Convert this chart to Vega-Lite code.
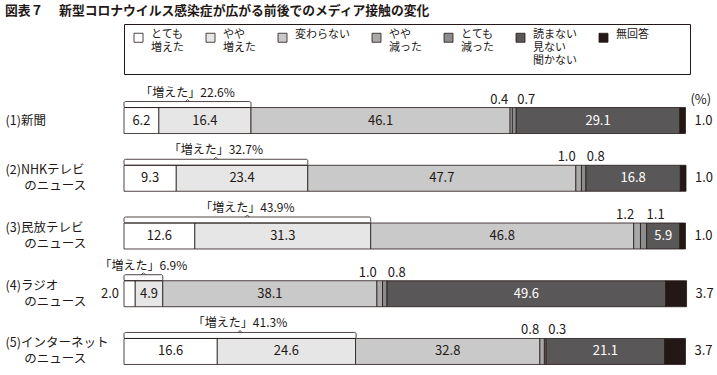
{
  "$schema": "https://vega.github.io/schema/vega-lite/v6.json",
  "width": 562,
  "height": 280,
  "autosize": {"type": "none"},
  "padding": {"left": 124, "top": 96, "right": 31, "bottom": 0},
  "background": "white",
  "title": {
    "text": "図表７　 新型コロナウイルス感染症が広がる前後でのメディア接触の変化",
    "anchor": "start",
    "frame": "group",
    "dx": -119,
    "dy": -2,
    "font": "Noto Sans CJK JP",
    "fontSize": 12.8,
    "fontWeight": "bold",
    "color": "#231815"
  },
  "datasets": {
    "seg": [
      {"media": "(1)新聞", "cat": "とても|増えた", "order": 1, "value": 6.2},
      {"media": "(1)新聞", "cat": "やや|増えた", "order": 2, "value": 16.4},
      {"media": "(1)新聞", "cat": "変わらない", "order": 3, "value": 46.1},
      {"media": "(1)新聞", "cat": "やや|減った", "order": 4, "value": 0.4},
      {"media": "(1)新聞", "cat": "とても|減った", "order": 5, "value": 0.7},
      {"media": "(1)新聞", "cat": "読まない|見ない|聞かない", "order": 6, "value": 29.1},
      {"media": "(1)新聞", "cat": "無回答", "order": 7, "value": 1.0},
      {"media": "(2)NHKテレビ|のニュース", "cat": "とても|増えた", "order": 1, "value": 9.3},
      {"media": "(2)NHKテレビ|のニュース", "cat": "やや|増えた", "order": 2, "value": 23.4},
      {"media": "(2)NHKテレビ|のニュース", "cat": "変わらない", "order": 3, "value": 47.7},
      {"media": "(2)NHKテレビ|のニュース", "cat": "やや|減った", "order": 4, "value": 1.0},
      {"media": "(2)NHKテレビ|のニュース", "cat": "とても|減った", "order": 5, "value": 0.8},
      {"media": "(2)NHKテレビ|のニュース", "cat": "読まない|見ない|聞かない", "order": 6, "value": 16.8},
      {"media": "(2)NHKテレビ|のニュース", "cat": "無回答", "order": 7, "value": 1.0},
      {"media": "(3)民放テレビ|のニュース", "cat": "とても|増えた", "order": 1, "value": 12.6},
      {"media": "(3)民放テレビ|のニュース", "cat": "やや|増えた", "order": 2, "value": 31.3},
      {"media": "(3)民放テレビ|のニュース", "cat": "変わらない", "order": 3, "value": 46.8},
      {"media": "(3)民放テレビ|のニュース", "cat": "やや|減った", "order": 4, "value": 1.2},
      {"media": "(3)民放テレビ|のニュース", "cat": "とても|減った", "order": 5, "value": 1.1},
      {"media": "(3)民放テレビ|のニュース", "cat": "読まない|見ない|聞かない", "order": 6, "value": 5.9},
      {"media": "(3)民放テレビ|のニュース", "cat": "無回答", "order": 7, "value": 1.0},
      {"media": "(4)ラジオ|のニュース", "cat": "とても|増えた", "order": 1, "value": 2.0},
      {"media": "(4)ラジオ|のニュース", "cat": "やや|増えた", "order": 2, "value": 4.9},
      {"media": "(4)ラジオ|のニュース", "cat": "変わらない", "order": 3, "value": 38.1},
      {"media": "(4)ラジオ|のニュース", "cat": "やや|減った", "order": 4, "value": 1.0},
      {"media": "(4)ラジオ|のニュース", "cat": "とても|減った", "order": 5, "value": 0.8},
      {"media": "(4)ラジオ|のニュース", "cat": "読まない|見ない|聞かない", "order": 6, "value": 49.6},
      {"media": "(4)ラジオ|のニュース", "cat": "無回答", "order": 7, "value": 3.7},
      {"media": "(5)インターネット|のニュース", "cat": "とても|増えた", "order": 1, "value": 16.6},
      {"media": "(5)インターネット|のニュース", "cat": "やや|増えた", "order": 2, "value": 24.6},
      {"media": "(5)インターネット|のニュース", "cat": "変わらない", "order": 3, "value": 32.8},
      {"media": "(5)インターネット|のニュース", "cat": "やや|減った", "order": 4, "value": 0.8},
      {"media": "(5)インターネット|のニュース", "cat": "とても|減った", "order": 5, "value": 0.3},
      {"media": "(5)インターネット|のニュース", "cat": "読まない|見ない|聞かない", "order": 6, "value": 21.1},
      {"media": "(5)インターネット|のニュース", "cat": "無回答", "order": 7, "value": 3.7}
    ],
    "inc": [
      {"media": "(1)新聞", "inc": 22.6, "label": "「増えた」22.6%"},
      {"media": "(2)NHKテレビ|のニュース", "inc": 32.7, "label": "「増えた」32.7%"},
      {"media": "(3)民放テレビ|のニュース", "inc": 43.9, "label": "「増えた」43.9%"},
      {"media": "(4)ラジオ|のニュース", "inc": 6.9, "label": "「増えた」6.9%"},
      {"media": "(5)インターネット|のニュース", "inc": 41.3, "label": "「増えた」41.3%"}
    ]
  },
  "layer": [
    {
      "data": {"name": "seg"},
      "transform": [
        {"stack": "value", "groupby": ["media"], "sort": [{"field": "order", "order": "ascending"}], "as": ["x0", "x1"]}
      ],
      "mark": {"type": "bar", "stroke": "#231815", "strokeWidth": 0.8},
      "encoding": {
        "x": {"field": "x0", "type": "quantitative", "scale": {"domain": [0, 100], "nice": false, "zero": false}, "axis": null},
        "x2": {"field": "x1"},
        "y": {
          "field": "media",
          "type": "nominal",
          "scale": {
            "domain": ["(1)新聞", "(2)NHKテレビ|のニュース", "(3)民放テレビ|のニュース", "(4)ラジオ|のニュース", "(5)インターネット|のニュース"],
            "paddingInner": 0.55,
            "paddingOuter": 0.2
          },
          "axis": {
            "title": null,
            "domain": false,
            "ticks": false,
            "labelAlign": "left",
            "labelBaseline": "middle",
            "labelPadding": 119,
            "labelFont": "Noto Sans CJK JP",
            "labelFontSize": 12.5,
            "labelColor": "#231815",
            "labelLineHeight": 16,
            "labelLimit": 200,
            "labelOffset": {"condition": {"test": "indexof(datum.label, '|') >= 0", "value": -8}, "value": 0},
            "labelExpr": "split(replace(datum.label, '|', '|\u200B\u3000\u2002'), '|')"
          }
        },
        "color": {
          "field": "cat",
          "type": "nominal",
          "scale": {
            "domain": ["とても|増えた", "やや|増えた", "変わらない", "やや|減った", "とても|減った", "読まない|見ない|聞かない", "無回答"],
            "range": ["#ffffff", "#e6e6e6", "#c9c9c9", "#a9a9a9", "#8c8c8c", "#595757", "#231815"]
          },
          "legend": {
            "orient": "none",
            "legendX": 0,
            "legendY": -72,
            "direction": "horizontal",
            "columns": 7,
            "title": null,
            "symbolType": "square",
            "symbolSize": 81,
            "symbolStrokeColor": "#231815",
            "symbolStrokeWidth": 0.8,
            "symbolOffset": 1,
            "labelFont": "Noto Sans CJK JP",
            "labelFontSize": 11,
            "labelColor": "#231815",
            "labelBaseline": "alphabetic",
            "labelExpr": "datum.label == '無回答' ? ['無回答\u3000\u3000\u3000\u200B', '', ''] : slice(split(datum.label + '||', '|'), 0, 3)",
            "labelLimit": 200,
            "labelOffset": 7,
            "strokeColor": "#231815",
            "padding": 8,
            "columnPadding": 20,
            "gridAlign": "each"
          }
        }
      }
    },
    {
      "data": {"name": "inc"},
      "transform": [
        {"stack": "inc", "groupby": ["media"], "as": ["a0", "a1"]}
      ],
      "layer": [
        {
          "mark": {"type": "bar", "filled": false, "stroke": "#231815", "fill": null, "strokeWidth": 0.8, "height": 6, "yOffset": -16, "cornerRadius": 1.5},
          "encoding": {
            "x": {"field": "a0", "type": "quantitative"},
            "x2": {"field": "a1"},
            "y": {"field": "media", "type": "nominal"}
          }
        },
        {
          "transform": [
            {"fold": ["a0", "a1"], "as": ["edge", "pos"]},
            {"aggregate": [{"op": "mean", "field": "pos", "as": "mid"}], "groupby": ["media", "label"]}
          ],
          "layer": [
            {
              "mark": {"type": "point", "shape": "M -1 1 L 0 0 L 1 1", "filled": false, "stroke": "#231815", "strokeWidth": 0.8, "size": 16, "opacity": 1, "yOffset": -21},
              "encoding": {
                "x": {"field": "mid", "type": "quantitative"},
                "y": {"field": "media", "type": "nominal"}
              }
            },
            {
              "mark": {"type": "text", "dy": -24, "baseline": "alphabetic", "font": "Noto Sans CJK JP", "fontSize": 12, "color": "#231815"},
              "encoding": {
                "x": {"field": "mid", "type": "quantitative"},
                "y": {"field": "media", "type": "nominal"},
                "text": {"field": "label"}
              }
            }
          ]
        }
      ]
    },
    {
      "data": {"name": "seg"},
      "transform": [
        {"stack": "value", "groupby": ["media"], "sort": [{"field": "order", "order": "ascending"}], "as": ["x0", "x1"]},
        {"fold": ["x0", "x1"], "as": ["edge", "pos"]},
        {"aggregate": [
          {"op": "mean", "field": "pos", "as": "mid"},
          {"op": "min", "field": "pos", "as": "lo"},
          {"op": "max", "field": "pos", "as": "hi"}
        ], "groupby": ["media", "cat", "order", "value"]}
      ],
      "layer": [
        {
          "transform": [{"filter": "(datum.order <= 3 || datum.order == 6) && datum.value >= 3"}],
          "mark": {"type": "text", "baseline": "middle", "font": "Liberation Sans Narrow, Noto Sans CJK JP, sans-serif", "fontSize": 13},
          "encoding": {
            "x": {"field": "mid", "type": "quantitative"},
            "y": {"field": "media", "type": "nominal"},
            "text": {"field": "value", "type": "quantitative", "format": ".1f"},
            "color": {"condition": {"test": "datum.order == 6", "value": "#ffffff"}, "value": "#231815"}
          }
        },
        {
          "transform": [{"filter": "datum.order == 1 && datum.value < 3"}],
          "mark": {"type": "text", "align": "right", "dx": -5, "baseline": "middle", "font": "Liberation Sans Narrow, Noto Sans CJK JP, sans-serif", "fontSize": 13, "color": "#231815"},
          "encoding": {
            "x": {"field": "lo", "type": "quantitative"},
            "y": {"field": "media", "type": "nominal"},
            "text": {"field": "value", "type": "quantitative", "format": ".1f"}
          }
        },
        {
          "transform": [{"filter": "datum.order == 4"}],
          "mark": {"type": "text", "align": "center", "dx": -12, "dy": -17, "baseline": "alphabetic", "font": "Liberation Sans Narrow, Noto Sans CJK JP, sans-serif", "fontSize": 13, "color": "#231815"},
          "encoding": {
            "x": {"field": "mid", "type": "quantitative"},
            "y": {"field": "media", "type": "nominal"},
            "text": {"field": "value", "type": "quantitative", "format": ".1f"}
          }
        },
        {
          "transform": [{"filter": "datum.order == 5"}],
          "mark": {"type": "text", "align": "center", "dx": 12, "dy": -17, "baseline": "alphabetic", "font": "Liberation Sans Narrow, Noto Sans CJK JP, sans-serif", "fontSize": 13, "color": "#231815"},
          "encoding": {
            "x": {"field": "mid", "type": "quantitative"},
            "y": {"field": "media", "type": "nominal"},
            "text": {"field": "value", "type": "quantitative", "format": ".1f"}
          }
        },
        {
          "transform": [{"filter": "datum.order == 7"}],
          "mark": {"type": "text", "align": "left", "dx": 9, "baseline": "middle", "font": "Liberation Sans Narrow, Noto Sans CJK JP, sans-serif", "fontSize": 13, "color": "#231815"},
          "encoding": {
            "x": {"field": "hi", "type": "quantitative"},
            "y": {"field": "media", "type": "nominal"},
            "text": {"field": "value", "type": "quantitative", "format": ".1f"}
          }
        },
        {
          "transform": [{"filter": "datum.order == 7 && datum.media == '(1)新聞'"}],
          "mark": {"type": "text", "text": "(%)", "align": "left", "dx": 5, "dy": -17, "baseline": "alphabetic", "font": "Liberation Sans Narrow, Noto Sans CJK JP, sans-serif", "fontSize": 13, "color": "#231815"},
          "encoding": {
            "x": {"field": "hi", "type": "quantitative"},
            "y": {"field": "media", "type": "nominal"}
          }
        }
      ]
    }
  ],
  "config": {"view": {"stroke": null}, "font": "Noto Sans CJK JP"}
}
